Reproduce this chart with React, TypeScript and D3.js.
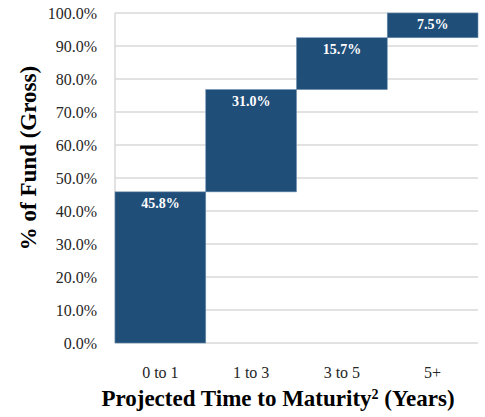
import React from 'react'
import * as d3 from 'd3'

const categories = ['0 to 1', '1 to 3', '3 to 5', '5+']
const shares = [45.8, 31.0, 15.7, 7.5]
const yTicks = [0, 10, 20, 30, 40, 50, 60, 70, 80, 90, 100]

const width = 485
const height = 417
const margin = { top: 13, right: 7, bottom: 74, left: 115 }
const font = '"Liberation Serif", "Times New Roman", serif'
const barColor = '#1f4e79'
const gridColor = '#d9d9d9'

const App = () => {
    const x = d3.scaleBand<string>()
        .domain(categories)
        .range([margin.left, width - margin.right])
        .padding(0)

    const y = d3.scaleLinear()
        .domain([0, 100])
        .range([height - margin.bottom, margin.top])

    // floating bars: each one starts where the previous ended
    const ends = Array.from(d3.cumsum(shares))
    const bars = categories.map((c, i) => ({
        cat: c,
        value: shares[i],
        start: ends[i] - shares[i],
        end: ends[i],
    }))

    const fmt = d3.format('.1f')

    return (
        <svg width={width} height={height}
            style={{ position: 'absolute', left: 0, top: 0, display: 'block', background: '#fff' }}>
            {/* gridlines */}
            {yTicks.map(t => (
                <line key={t}
                    x1={margin.left} x2={width - margin.right}
                    y1={y(t)} y2={y(t)}
                    stroke={gridColor} strokeWidth={1.5} />
            ))}
            <line x1={margin.left} x2={margin.left} y1={y(100)} y2={y(0)}
                stroke={gridColor} strokeWidth={1.5} />

            {/* y tick labels */}
            {yTicks.map(t => (
                <text key={t} x={margin.left - 18} y={y(t)} dy="0.35em"
                    textAnchor="end" fontFamily={font} fontSize={16} fill="#262626">
                    {fmt(t)}%
                </text>
            ))}

            {/* bars */}
            {bars.map(b => (
                <g key={b.cat}>
                    <rect x={x(b.cat)} y={y(b.end)}
                        width={x.bandwidth()} height={y(b.start) - y(b.end)}
                        fill={barColor} stroke="#6d8fb0" strokeWidth={0.6} />
                    <text x={(x(b.cat) ?? 0) + x.bandwidth() / 2} y={y(b.end) + 16}
                        textAnchor="middle" fontFamily={font} fontSize={14}
                        fontWeight="bold" fill="#fff">
                        {fmt(b.value)}%
                    </text>
                </g>
            ))}

            {/* category labels */}
            {categories.map(c => (
                <text key={c} x={(x(c) ?? 0) + x.bandwidth() / 2} y={y(0) + 35}
                    textAnchor="middle" fontFamily={font} fontSize={16} fill="#262626">
                    {c}
                </text>
            ))}

            {/* axis titles */}
            <text x={278} y={406} textAnchor="middle" fontFamily={font}
                fontSize={23} fontWeight="bold" fill="#000">
                Projected Time to Maturity
                <tspan fontSize={14} dy={-7}>2</tspan>
                <tspan dy={7}> (Years)</tspan>
            </text>
            <text transform={`translate(36, ${158}) rotate(-90)`} textAnchor="middle"
                fontFamily={font} fontSize={23} fontWeight="bold" fill="#000">
                % of Fund (Gross)
            </text>
        </svg>
    )
}

export default App
